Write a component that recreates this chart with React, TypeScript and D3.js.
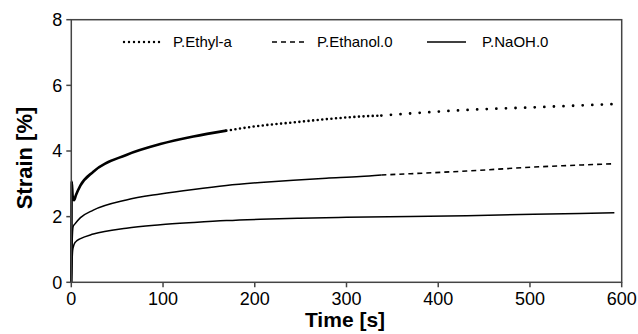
import * as d3 from 'd3'

// [time s, strain %]
const ethylA: [number, number][] = [
  [0, 0], [0.5, 3.07], [1.5, 2.62], [3, 2.5], [5, 2.65], [10, 2.95], [24, 3.37], [60, 3.88],
  [97, 4.21], [133, 4.44], [169, 4.62], [206, 4.77], [242, 4.87], [278, 4.97], [315, 5.05],
  [338, 5.08], [431, 5.25], [504, 5.33], [591, 5.43],
]
const ethanol0: [number, number][] = [
  [0, 0], [1, 1.3], [2, 1.7], [4, 1.78], [10, 1.97], [24, 2.2], [60, 2.51], [97, 2.69],
  [133, 2.83], [169, 2.95], [206, 3.04], [242, 3.11], [278, 3.17], [315, 3.22], [338, 3.27],
  [431, 3.39], [504, 3.51], [590, 3.61],
]
const naoh0: [number, number][] = [
  [0, 0], [1.5, 0.98], [3, 1.15], [5, 1.24], [10, 1.33], [24, 1.47], [60, 1.65], [97, 1.75],
  [133, 1.82], [169, 1.88], [206, 1.92], [249, 1.95], [300, 1.98], [431, 2.03], [504, 2.07],
  [592, 2.12],
]
const xTicks = [0, 100, 200, 300, 400, 500, 600]
const yTicks = [0, 2, 4, 6, 8]
const legendNames = ['P.Ethyl-a', 'P.Ethanol.0', 'P.NaOH.0']

const W = 638, H = 334
const m = { left: 71.3, right: 16.3, top: 19.7, bottom: 51.7 }

export default function App() {
  const x = d3.scaleLinear().domain([0, 600]).range([m.left, W - m.right])
  const y = d3.scaleLinear().domain([0, 8]).range([H - m.bottom, m.top])
  const line = d3.line<[number, number]>().x(d => x(d[0])).y(d => y(d[1])).curve(d3.curveMonotoneX)
  const seg = (data: [number, number][], a: number, b: number) => data.filter(d => d[0] >= a && d[0] <= b)
  const font = 'Liberation Sans, Arial, sans-serif'
  const axisColor = '#444'

  return (
    <svg width={W} height={H} style={{ position: 'fixed', left: 0, top: 0, background: '#fff' }} fontFamily={font}>
      {/* curves */}
      <path d={line(seg(ethylA, 0, 169))!} fill="none" stroke="#000" strokeWidth={2.6} />
      <path d={line(seg(ethylA, 169, 338))!} fill="none" stroke="#000" strokeWidth={2.6} strokeLinecap="round" strokeDasharray="0,4.6" />
      <path d={line(seg(ethylA, 338, 600))!} fill="none" stroke="#000" strokeWidth={2.8} strokeLinecap="round" strokeDasharray="0,9.6" />
      <path d={line(seg(ethanol0, 0, 338))!} fill="none" stroke="#000" strokeWidth={1.5} />
      <path d={line(seg(ethanol0, 338, 600))!} fill="none" stroke="#000" strokeWidth={1.6} strokeDasharray="5,4" />
      <path d={line(naoh0)!} fill="none" stroke="#000" strokeWidth={1.5} />

      {/* frame */}
      <rect x={m.left} y={m.top} width={W - m.right - m.left} height={H - m.bottom - m.top} fill="none" stroke={axisColor} strokeWidth={1.5} />

      {/* y axis */}
      {yTicks.map(t => (
        <g key={'y' + t}>
          <line x1={m.left - 5} x2={m.left} y1={y(t)} y2={y(t)} stroke={axisColor} strokeWidth={1.5} />
          <text x={m.left - 9} y={y(t)} dy="0.36em" textAnchor="end" fontSize={18}>{t}</text>
        </g>
      ))}
      {/* x axis */}
      {xTicks.map(t => (
        <g key={'x' + t}>
          <line x1={x(t)} x2={x(t)} y1={H - m.bottom} y2={H - m.bottom + 5} stroke={axisColor} strokeWidth={1.5} />
          <text x={x(t)} y={305} textAnchor="middle" fontSize={18}>{t}</text>
        </g>
      ))}

      <text x={345} y={327} textAnchor="middle" fontSize={21} fontWeight="bold">Time [s]</text>
      <text transform="translate(32,158) rotate(-90)" textAnchor="middle" fontSize={22} fontWeight="bold">Strain [%]</text>

      {/* legend */}
      <line x1={124} x2={160} y1={42} y2={42} stroke="#000" strokeWidth={2.4} strokeLinecap="round" strokeDasharray="0,5" />
      <text x={173} y={42} dy="0.36em" fontSize={15}>{legendNames[0]}</text>
      <line x1={272} x2={304} y1={42} y2={42} stroke="#000" strokeWidth={1.5} strokeDasharray="5,4" />
      <text x={317} y={42} dy="0.36em" fontSize={15}>{legendNames[1]}</text>
      <line x1={427} x2={466} y1={42} y2={42} stroke="#000" strokeWidth={1.5} />
      <text x={482} y={42} dy="0.36em" fontSize={15}>{legendNames[2]}</text>
    </svg>
  )
}
